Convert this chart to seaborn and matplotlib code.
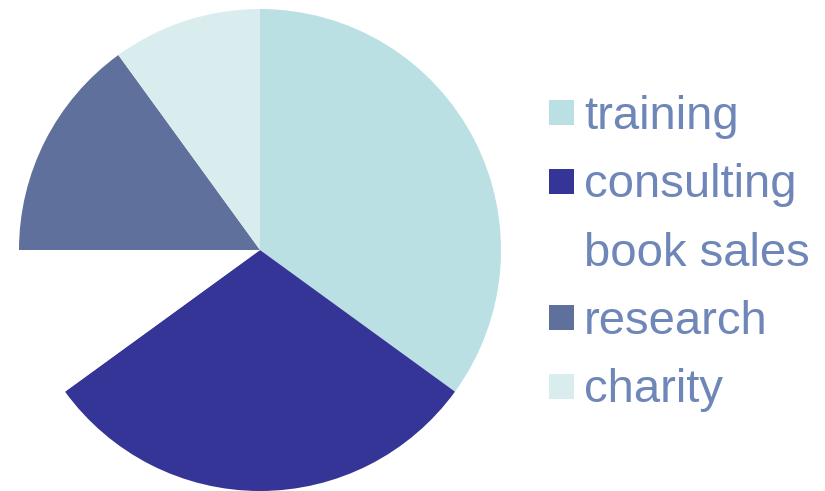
import matplotlib
matplotlib.use("Agg")
import matplotlib.pyplot as plt
from matplotlib.lines import Line2D
import seaborn as sns

categories = ["training", "consulting", "book sales", "research", "charity"]
shares = [35, 30, 10, 15, 10]
colors = ["#BAE0E3", "#353497", "#FFFFFF", "#60709C", "#D9EDEF"]
text_color = "#6E86B8"

sns.set_theme(style="white")
plt.rcParams["font.family"] = ["Liberation Sans", "DejaVu Sans"]

fig = plt.figure(figsize=(8.25, 4.91), dpi=100)
ax = fig.add_axes([19 / 825, 0 / 491, 482 / 825, 482 / 491])
palette = sns.color_palette(colors)
ax.pie(shares, colors=palette, startangle=90, counterclock=False,
       radius=1, wedgeprops=dict(linewidth=0))
ax.set_xlim(-1, 1)
ax.set_ylim(-1, 1)
ax.set_aspect("equal")
ax.axis("off")

handles = [Line2D([], [], marker="s", linestyle="none", markersize=18,
                  markerfacecolor=c, markeredgewidth=0) for c in palette]
leg = fig.legend(handles, categories, loc="upper left",
                 bbox_to_anchor=(548 / 825, 1 - 95 / 491),
                 frameon=False, prop={"size": 34}, labelcolor=text_color,
                 handlelength=0.55, handletextpad=0.21, labelspacing=0.515,
                 borderpad=0, borderaxespad=0)

fig.savefig("out.png", dpi=100, facecolor="white")
